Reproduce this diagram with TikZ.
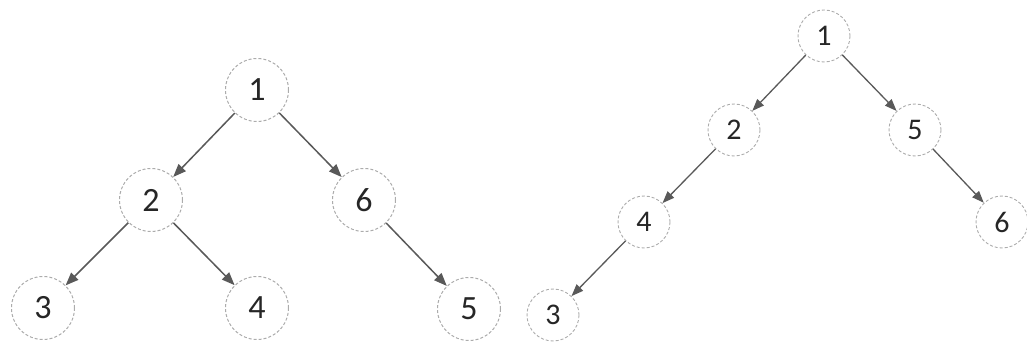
\documentclass[tikz,border=0pt]{standalone}
\usepackage{fontspec}
\setmainfont{Carlito}
\usetikzlibrary{arrows.meta}
\begin{document}
\begin{tikzpicture}[x=1pt,y=-1pt,
  big/.style={circle,draw=gray!65,densely dashed,line width=1pt,minimum size=63pt,inner sep=0pt,font=\fontsize{34}{36}\selectfont,text=black!85},
  small/.style={circle,draw=gray!65,densely dashed,line width=0.9pt,minimum size=52pt,inner sep=0pt,font=\fontsize{30}{32}\selectfont,text=black!85},
  edge/.style={draw=black!65,line width=1.5pt,-{Triangle[length=13pt,width=10pt]}},
  sedge/.style={draw=black!65,line width=1.3pt,-{Triangle[length=12pt,width=9pt]}}]
\useasboundingbox (0,0) rectangle (1027,344);
% left tree
\node[big] (a1) at (257,90) {1};
\node[big] (a2) at (151,200) {2};
\node[big] (a6) at (364,200) {6};
\node[big] (a3) at (43,308) {3};
\node[big] (a4) at (257,308) {4};
\node[big] (a5) at (469,309) {5};
\draw[edge] (a1) -- (a2);
\draw[edge] (a1) -- (a6);
\draw[edge] (a2) -- (a3);
\draw[edge] (a2) -- (a4);
\draw[edge] (a6) -- (a5);
% right tree
\node[small] (b1) at (824,36) {1};
\node[small] (b2) at (734,130) {2};
\node[small] (b5) at (915,130) {5};
\node[small] (b4) at (644,222) {4};
\node[small] (b6) at (1002,222) {6};
\node[small] (b3) at (553,315) {3};
\draw[sedge] (b1) -- (b2);
\draw[sedge] (b1) -- (b5);
\draw[sedge] (b2) -- (b4);
\draw[sedge] (b5) -- (b6);
\draw[sedge] (b4) -- (b3);
\end{tikzpicture}
\end{document}
